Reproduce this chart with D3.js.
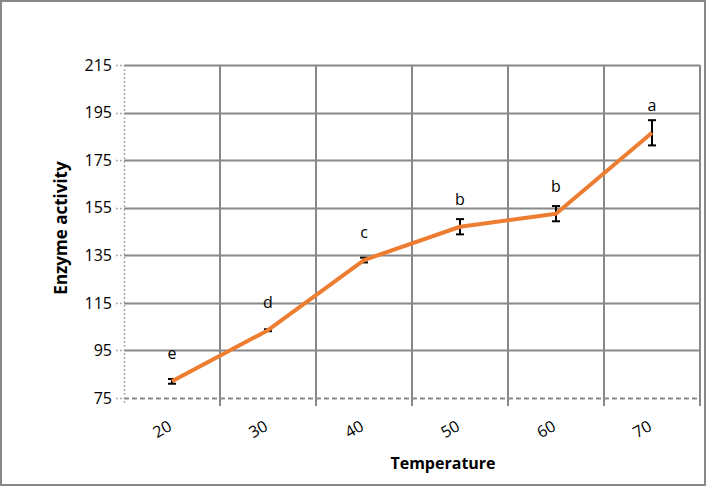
<!DOCTYPE html>
<html><head><meta charset="utf-8">
<script src="https://cdn.jsdelivr.net/npm/d3@7"></script>
<style>html,body{margin:0;padding:0;background:#fff}svg{display:block}</style>
</head><body>
<script>
const categories = ["20","30","40","50","60","70"];
const values = [82, 103.5, 133, 147, 152.5, 186.5];
const errors = [1, 0.4, 1, 3.2, 3.2, 5.3];
const letters = ["e","d","c","b","b","a"];
const yTicks = [75, 95, 115, 135, 155, 175, 195, 215];

const W = 706, H = 486;
const m = {left:124, right:6, top:65, bottom:88};
const svg = d3.select("body").append("svg").attr("width", W).attr("height", H);
svg.append("rect").attr("x",1).attr("y",1).attr("width",W-2).attr("height",H-2)
  .attr("fill","#fff").attr("stroke","#888").attr("stroke-width",2);

const x = d3.scaleBand().domain(categories).range([m.left, W - m.right]).padding(0);
const y = d3.scaleLinear().domain([75, 215]).range([H - m.bottom, m.top]);
const font = "'Segoe UI','Open Sans','Noto Sans',sans-serif";

// horizontal gridlines
svg.append("g").selectAll("line").data(yTicks).join("line")
  .attr("x1", m.left).attr("x2", W - m.right)
  .attr("y1", d => Math.round(y(d)) + 0.5).attr("y2", d => Math.round(y(d)) + 0.5)
  .attr("stroke", "#888").attr("stroke-width", 2)
  .attr("stroke-dasharray", d => d === 75 ? "5,3" : null);

// vertical gridlines at category boundaries
const bounds = categories.map(c => x(c) + x.bandwidth());
svg.append("g").selectAll("line").data(bounds).join("line")
  .attr("x1", d => Math.round(d)).attr("x2", d => Math.round(d))
  .attr("y1", m.top).attr("y2", H - m.bottom + 8)
  .attr("stroke", "#888").attr("stroke-width", 2);

// left axis dotted
svg.append("line").attr("x1", m.left+0.5).attr("x2", m.left+0.5)
  .attr("y1", m.top).attr("y2", H - m.bottom + 6)
  .attr("stroke", "#aaa").attr("stroke-width", 1.5).attr("stroke-dasharray", "2,2");
svg.append("g").selectAll("line").data(yTicks).join("line")
  .attr("x1", m.left - 8).attr("x2", m.left)
  .attr("y1", d => Math.round(y(d)) + 0.5).attr("y2", d => Math.round(y(d)) + 0.5)
  .attr("stroke", "#aaa").attr("stroke-width", 1.5).attr("stroke-dasharray", "2,2");

// y tick labels
svg.append("g").selectAll("text").data(yTicks).join("text")
  .attr("x", 112).attr("y", d => y(d)).attr("dy", "0.36em")
  .attr("text-anchor", "end").attr("font-family", font).attr("font-size", 16)
  .attr("fill", "#000").text(d => d);

// x tick labels rotated
svg.append("g").selectAll("text").data(categories).join("text")
  .attr("transform", d => `translate(${x(d) + x.bandwidth()/2 - 7},${434}) rotate(-30)`)
  .attr("text-anchor", "middle").attr("font-family", font).attr("font-size", 16)
  .attr("fill", "#000").text(d => d);

// axis titles
svg.append("text").attr("transform", `translate(67,${228}) rotate(-90)`)
  .attr("text-anchor", "middle").attr("font-family", font).attr("font-size", 17)
  .attr("font-weight", "bold").text("Enzyme activity");
svg.append("text").attr("x", 443).attr("y", 469)
  .attr("text-anchor", "middle").attr("font-family", font).attr("font-size", 16)
  .attr("font-weight", "bold").text("Temperature");

const cx = d => x(d) + x.bandwidth()/2;
const data = categories.map((c,i) => ({c, v: values[i], e: errors[i], l: letters[i]}));

// error bars
const eb = svg.append("g").attr("stroke", "#000").attr("stroke-width", 2);
data.forEach(d => {
  eb.append("line").attr("x1", cx(d.c)).attr("x2", cx(d.c)).attr("y1", y(d.v + d.e)).attr("y2", y(d.v - d.e));
  eb.append("line").attr("x1", cx(d.c) - 4).attr("x2", cx(d.c) + 4).attr("y1", y(d.v + d.e)).attr("y2", y(d.v + d.e));
  eb.append("line").attr("x1", cx(d.c) - 4).attr("x2", cx(d.c) + 4).attr("y1", y(d.v - d.e)).attr("y2", y(d.v - d.e));
});

// line
svg.append("path").datum(data)
  .attr("d", d3.line().x(d => cx(d.c)).y(d => y(d.v)))
  .attr("fill", "none").attr("stroke", "#ED7D31").attr("stroke-width", 4)
  .attr("stroke-linejoin", "round");

// letters
svg.append("g").selectAll("text").data(data).join("text")
  .attr("x", d => cx(d.c)).attr("y", d => y(d.v) - 22)
  .attr("text-anchor", "middle").attr("font-family", font).attr("font-size", 16)
  .attr("fill", "#000").text(d => d.l);
</script>
</body></html>
